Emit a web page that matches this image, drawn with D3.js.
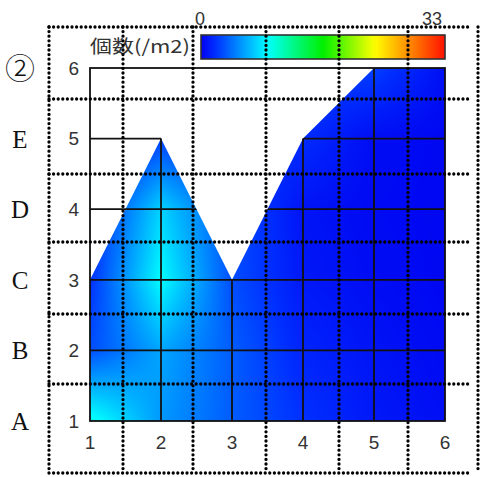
<!DOCTYPE html>
<html>
<head>
<meta charset="utf-8">
<script src="https://cdn.jsdelivr.net/npm/d3@7"></script>
<style>
  body { margin: 0; background: #fff; }
</style>
</head>
<body>
<div id="chart"></div>
<script>
// grid columns and rows
var xValues = [1, 2, 3, 4, 5, 6];
var yValues = [1, 2, 3, 4, 5, 6];
var rowLabels = ["A", "B", "C", "D", "E", "②"];
// upper edge of the measured area, one value per column
var topEdge = [3, 5, 3, 5, 6, 6];

// counts (/m2) at the grid nodes, one array per row (y = 1 .. 6)
var row1 = [9.5, 5.5, 3.5, 2.0, 1.0, 0.6];
var row2 = [3.0, 6.0, 3.5, 1.5, 0.8, 0.4];
var row3 = [2.0, 9.0, 3.0, 1.0, 0.5, 0.3];
var row4 = [1.5, 7.5, 3.0, 0.8, 0.4, 0.3];
var row5 = [1.0, 2.5, 2.0, 1.8, 0.5, 0.3];
var row6 = [1.0, 1.5, 1.5, 2.5, 2.5, 0.6];

var colorMin = 0, colorMax = 33;
var colorbarTitle = "個数(/m2)";

// the dotted sheet lines drawn over the chart (page layout, pixels)
var sheetCols = [49, 123, 193, 266, 339, 408, 478];
var sheetRows = [27, 99, 174, 242, 314, 384, 473];

var field = [row1, row2, row3, row4, row5, row6];

var width = 480, height = 477;

var svg = d3.select("#chart")
    .append("svg")
    .attr("width", width)
    .attr("height", height)
    .style("display", "block");

var x = d3.scaleLinear().domain([1, 6]).range([90, 445]);
var y = d3.scaleLinear().domain([1, 6]).range([421, 68]);

var color = d3.scaleLinear()
    .domain([0, 2, 9, 16.5, 23.5, 33])
    .range(["#0000f0", "#0030ff", "#00ffff", "#00f000", "#ffff00", "#ff1000"])
    .clamp(true);

// value at any point, bilinear between the grid nodes
function valueAt(px, py) {
    var i = Math.max(0, Math.min(xValues.length - 2, Math.floor(px - xValues[0])));
    var j = Math.max(0, Math.min(yValues.length - 2, Math.floor(py - yValues[0])));
    var tx = px - xValues[i], ty = py - yValues[j];
    var a = field[j][i], b = field[j][i + 1], c = field[j + 1][i], d = field[j + 1][i + 1];
    return (a * (1 - tx) + b * tx) * (1 - ty) + (c * (1 - tx) + d * tx) * ty;
}

// paint the field into a bitmap
var x0 = x(1), y0 = y(6);
var pw = Math.round(x(6) - x(1)), ph = Math.round(y(1) - y(6));
var canvas = document.createElement("canvas");
canvas.width = pw;
canvas.height = ph;
var ctx = canvas.getContext("2d");
var img = ctx.createImageData(pw, ph);
for (var j = 0; j < ph; j++) {
    var dy = y.invert(y0 + j + 0.5);
    for (var i = 0; i < pw; i++) {
        var dx = x.invert(x0 + i + 0.5);
        var c = d3.rgb(color(valueAt(dx, dy)));
        var k = (j * pw + i) * 4;
        img.data[k] = c.r;
        img.data[k + 1] = c.g;
        img.data[k + 2] = c.b;
        img.data[k + 3] = 255;
    }
}
ctx.putImageData(img, 0, 0);

// measured area polygon
var areaPts = xValues.map(function (v, i) { return [x(v), y(topEdge[i])]; });
areaPts.push([x(xValues[xValues.length - 1]), y(1)]);
areaPts.push([x(xValues[0]), y(1)]);

// first peak of the upper edge: grid lines stay visible left of it
var peakIdx = topEdge.findIndex(function (t, i) {
    return i > 0 && i < topEdge.length - 1 && t > topEdge[i - 1] && t >= topEdge[i + 1];
});

var defs = svg.append("defs");
defs.append("clipPath").attr("id", "area")
    .append("polygon")
    .attr("points", areaPts.map(function (p) { return p.join(","); }).join(" "));

var gridClip = defs.append("clipPath").attr("id", "gridclip");
gridClip.append("polygon")
    .attr("points", areaPts.map(function (p) { return p.join(","); }).join(" "));
gridClip.append("rect")
    .attr("x", x(1))
    .attr("y", y(6))
    .attr("width", x(xValues[peakIdx]) - x(1))
    .attr("height", y(1) - y(6));

svg.append("image")
    .attr("href", canvas.toDataURL())
    .attr("x", x0)
    .attr("y", y0)
    .attr("width", pw)
    .attr("height", ph)
    .attr("preserveAspectRatio", "none")
    .attr("clip-path", "url(#area)");

// horizontal mesh lines
svg.append("g")
    .attr("clip-path", "url(#gridclip)")
    .selectAll("line")
    .data(yValues.slice(1, -1))
    .enter().append("line")
    .attr("x1", x(1))
    .attr("x2", x(6))
    .attr("y1", function (d) { return y(d); })
    .attr("y2", function (d) { return y(d); })
    .attr("stroke", "#111")
    .attr("stroke-width", 1.8);

// vertical mesh lines, up to the top of each column
svg.append("g")
    .selectAll("line")
    .data(xValues.slice(1, -1))
    .enter().append("line")
    .attr("x1", function (d) { return x(d); })
    .attr("x2", function (d) { return x(d); })
    .attr("y1", y(1))
    .attr("y2", function (d, i) { return y(topEdge[i + 1]); })
    .attr("stroke", "#111")
    .attr("stroke-width", 1.8);

// frame
svg.append("rect")
    .attr("x", x(1))
    .attr("y", y(6))
    .attr("width", x(6) - x(1))
    .attr("height", y(1) - y(6))
    .attr("fill", "none")
    .attr("stroke", "#111")
    .attr("stroke-width", 1.8);

// tick labels
var tickFont = "'Liberation Sans', Arial, sans-serif";
svg.append("g")
    .selectAll("text")
    .data(yValues)
    .enter().append("text")
    .attr("x", x(1) - 11)
    .attr("y", function (d) { return y(d); })
    .attr("dy", "0.36em")
    .attr("text-anchor", "end")
    .attr("font-family", tickFont)
    .attr("font-size", 19)
    .attr("fill", "#333")
    .text(function (d) { return d; });

svg.append("g")
    .selectAll("text")
    .data(xValues)
    .enter().append("text")
    .attr("x", function (d) { return x(d); })
    .attr("y", y(1) + 28)
    .attr("text-anchor", "middle")
    .attr("font-family", tickFont)
    .attr("font-size", 19)
    .attr("fill", "#333")
    .text(function (d) { return d; });

// row names on the left
svg.append("g")
    .selectAll("text")
    .data(rowLabels)
    .enter().append("text")
    .attr("x", 20)
    .attr("y", function (d, i) { return y(yValues[i]); })
    .attr("dy", "0.36em")
    .attr("text-anchor", "middle")
    .attr("font-family", "'Liberation Serif', 'Noto Sans CJK JP', serif")
    .attr("font-size", function (d) { return d === "②" ? 30 : 25; })
    .attr("font-weight", function (d) { return d === "②" ? 300 : "normal"; })
    .attr("fill", "#111")
    .text(function (d) { return d; });

// colour bar
var grad = defs.append("linearGradient").attr("id", "cbar");
d3.range(0, 1.0001, 0.02).forEach(function (t) {
    grad.append("stop")
        .attr("offset", (t * 100) + "%")
        .attr("stop-color", color(colorMin + t * (colorMax - colorMin)));
});
var cb = { x: 201, y: 35, w: 244, h: 24 };
svg.append("rect")
    .attr("x", cb.x)
    .attr("y", cb.y)
    .attr("width", cb.w)
    .attr("height", cb.h)
    .attr("fill", "url(#cbar)")
    .attr("stroke", "#333")
    .attr("stroke-width", 1.6);

svg.append("text")
    .attr("x", cb.x - 1)
    .attr("y", 25)
    .attr("text-anchor", "middle")
    .attr("font-family", tickFont)
    .attr("font-size", 18)
    .attr("fill", "#333")
    .text(colorMin);
svg.append("text")
    .attr("x", cb.x + cb.w - 3)
    .attr("y", 25)
    .attr("text-anchor", "end")
    .attr("font-family", tickFont)
    .attr("font-size", 18)
    .attr("fill", "#333")
    .text(colorMax);
svg.append("text")
    .attr("x", 90)
    .attr("y", cb.y + cb.h / 2)
    .attr("dy", "0.36em")
    .attr("font-family", "'Noto Sans CJK JP', sans-serif")
    .attr("font-size", 18)
    .attr("fill", "#333")
    .attr("textLength", 100)
    .attr("lengthAdjust", "spacingAndGlyphs")
    .text(colorbarTitle);

// dotted sheet lines on top
var dots = svg.append("g")
    .attr("stroke", "#000")
    .attr("stroke-width", 3.3)
    .attr("stroke-linecap", "round")
    .attr("stroke-dasharray", "0,4.6");
dots.selectAll(".vd")
    .data(sheetCols)
    .enter().append("line")
    .attr("class", "vd")
    .attr("x1", function (d) { return d; })
    .attr("x2", function (d) { return d; })
    .attr("y1", sheetRows[0])
    .attr("y2", sheetRows[sheetRows.length - 1]);
dots.selectAll(".hd")
    .data(sheetRows)
    .enter().append("line")
    .attr("class", "hd")
    .attr("x1", sheetCols[0])
    .attr("x2", sheetCols[sheetCols.length - 1] - 6)
    .attr("y1", function (d) { return d; })
    .attr("y2", function (d) { return d; });
</script>
</body>
</html>
